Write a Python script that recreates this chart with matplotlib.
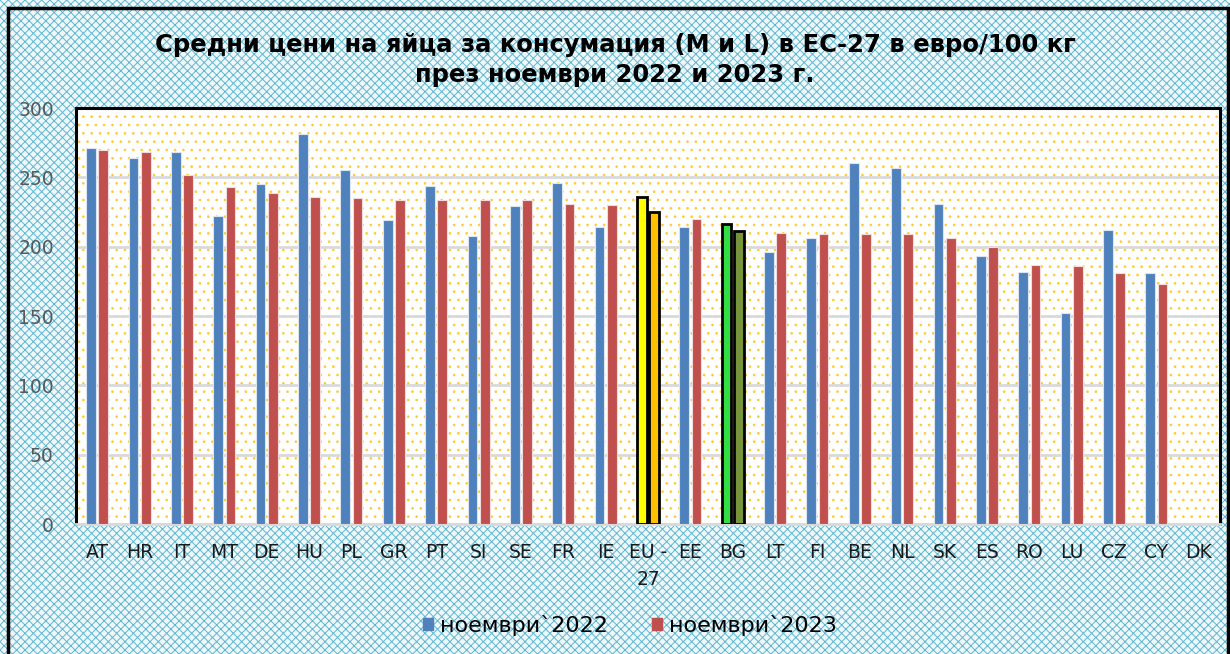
import numpy as np
import matplotlib.pyplot as plt
from matplotlib.patches import Rectangle, Patch

countries = ["AT", "HR", "IT", "MT", "DE", "HU", "PL", "GR", "PT", "SI", "SE", "FR", "IE",
             "EU -\n27", "EE", "BG", "LT", "FI", "BE", "NL", "SK", "ES", "RO", "LU", "CZ", "CY", "DK"]
nov_2022 = [271, 264, 268, 222, 245, 281, 255, 219, 244, 208, 229, 246, 214,
            236, 214, 216, 196, 206, 260, 257, 231, 193, 182, 152, 212, 181, np.nan]
nov_2023 = [270, 268, 252, 243, 239, 236, 235, 234, 234, 234, 234, 231, 230,
            225, 220, 211, 210, 209, 209, 209, 206, 200, 187, 186, 181, 173, np.nan]
yticks = [0, 50, 100, 150, 200, 250, 300]

blue = "#4f81bd"
red = "#c0504d"

plt.rcParams["hatch.linewidth"] = 0.7

fig = plt.figure(figsize=(12.3, 6.54), dpi=100)
fig.patch.set_facecolor("white")

# patterned figure background + border
bg = Rectangle((0, 0), 1, 1, transform=fig.transFigure, facecolor="#eef8fb",
               edgecolor="#5fb6cf", hatch="xxxx", linewidth=0, zorder=-10)
fig.patches.append(bg)
frame = Rectangle((8 / 1230, -0.05), 1220 / 1230, 1.05 - 8 / 654, transform=fig.transFigure,
                  facecolor="none", edgecolor="black", linewidth=2.5, zorder=10)
fig.patches.append(frame)

ax = fig.add_axes([76 / 1230, 1 - 524 / 654, (1220 - 76) / 1230, (524 - 108) / 654])
ax.patch.set_facecolor("white")
ax.patch.set_edgecolor("#ffcc33")
ax.patch.set_hatch("..")
ax.patch.set_linewidth(0)

x = np.arange(len(countries))
w = 0.23
off = 0.145

c1 = [blue] * len(countries)
c2 = [red] * len(countries)
e1 = ["#dbe5f1"] * len(countries)
e2 = ["#f2dcdb"] * len(countries)
lw = [0.8] * len(countries)
i_eu = countries.index("EU -\n27")
i_bg = countries.index("BG")
c1[i_eu], c2[i_eu] = "#ffff00", "#ffc000"
c1[i_bg], c2[i_bg] = "#33dd44", "#77933c"
for i in (i_eu, i_bg):
    e1[i] = e2[i] = "black"
    lw[i] = 2.0

ax.bar(x - off, nov_2022, w, color=c1, edgecolor=e1, linewidth=lw, zorder=3)
ax.bar(x + off, nov_2023, w, color=c2, edgecolor=e2, linewidth=lw, zorder=3)

ax.set_xlim(-0.5, len(countries) - 0.5)
ax.set_ylim(0, 300)
ax.set_yticks(yticks)
ax.set_xticks(x)
ax.set_xticklabels(countries, fontsize=13.5, color="#1a1a1a", linespacing=1.5, va="top")
ax.tick_params(axis="y", labelsize=13.5, labelcolor="#595959", length=0, pad=16)
ax.tick_params(axis="x", length=0, pad=14)
ax.grid(axis="y", color="#d9d9d9", linewidth=2, zorder=1)
ax.set_axisbelow(True)

for s in ("left", "top", "right"):
    ax.spines[s].set_color("black")
    ax.spines[s].set_linewidth(2.2)
ax.spines["bottom"].set_color("#d9d9d9")
ax.spines["bottom"].set_linewidth(2)

handles = [Patch(color=blue, label="ноември`2022"), Patch(color=red, label="ноември`2023")]
fig.legend(handles=handles, loc="center", bbox_to_anchor=(0.512, 1 - 625 / 654), ncol=2,
           frameon=False, fontsize=16, handlelength=0.45, handleheight=0.45,
           handletextpad=0.3, columnspacing=2.0)

fig.text(0.5, 1 - 60 / 654, "Средни цени на яйца за консумация (М и L) в ЕС-27 в евро/100 кг\nпрез ноември 2022 и 2023 г.",
         ha="center", va="center", fontsize=17.5, fontweight="bold", linespacing=1.35)

fig.savefig("out.png", dpi=100)
